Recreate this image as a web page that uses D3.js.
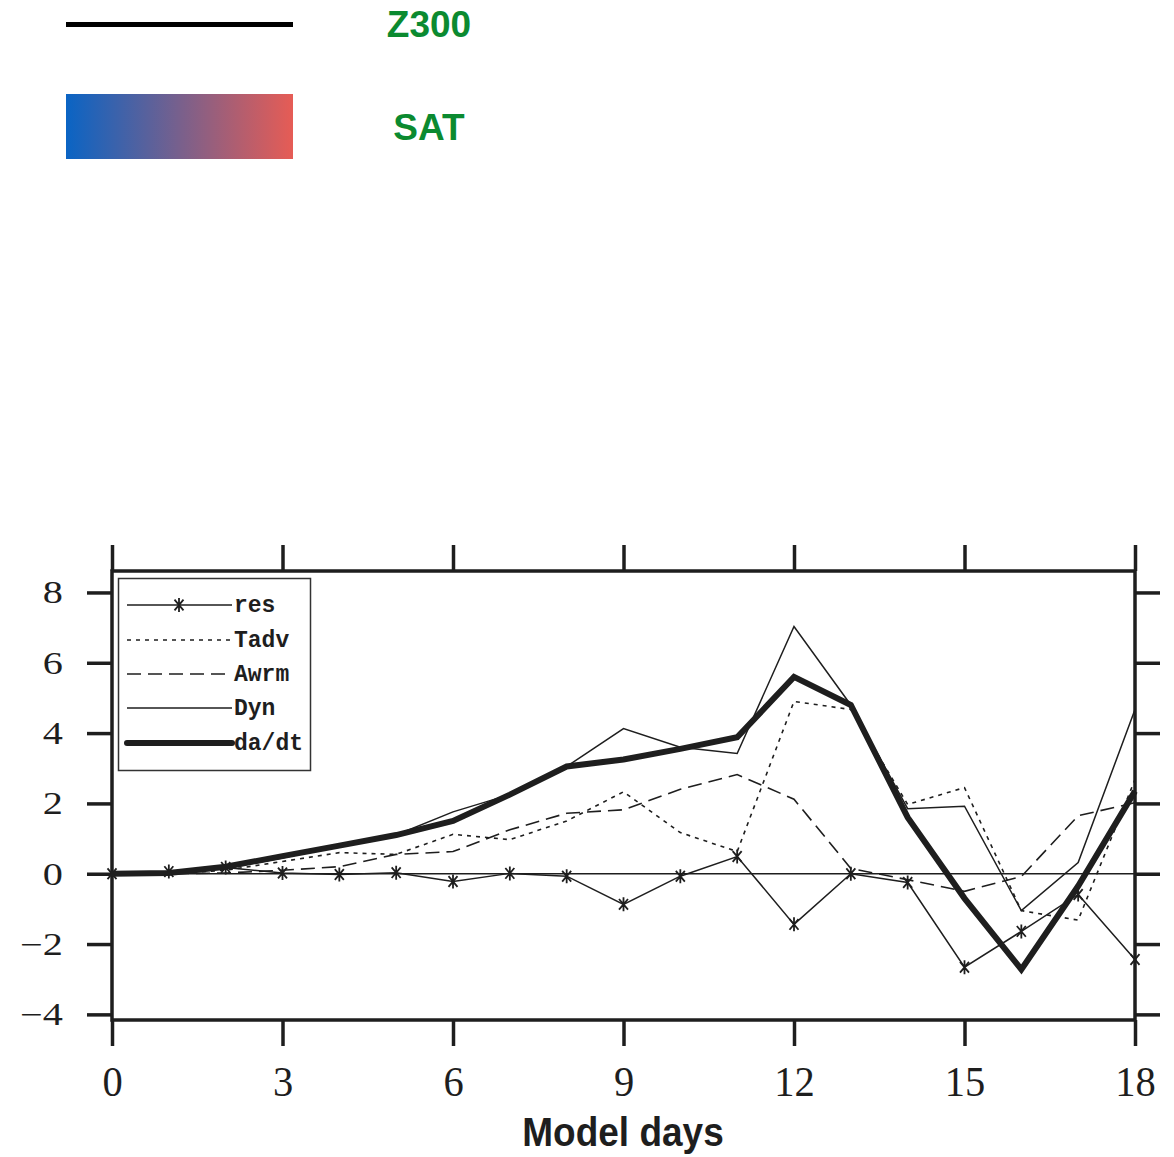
<!DOCTYPE html>
<html>
<head>
<meta charset="utf-8">
<script src="https://cdn.jsdelivr.net/npm/d3@7"></script>
<style>
  body { margin: 0; background: #fff; }
</style>
</head>
<body>
<div id="chart-area"></div>
<script>
// data
var days = d3.range(0, 19)
var res  = [0, 0.06, 0.18, 0.02, -0.02, 0.03, -0.22, 0.01, -0.07, -0.87, -0.07, 0.49, -1.44, 0.0, -0.25, -2.66, -1.64, -0.59, -2.44]
var tadv = [0, 0.0, 0.1, 0.35, 0.6, 0.55, 1.12, 0.97, 1.5, 2.33, 1.17, 0.63, 4.9, 4.67, 1.97, 2.45, -1.05, -1.32, 2.68]
var awrm = [0, 0.0, 0.02, 0.1, 0.2, 0.55, 0.63, 1.25, 1.72, 1.82, 2.4, 2.82, 2.12, 0.15, -0.17, -0.5, -0.08, 1.65, 2.02]
var dyn  = [0, 0.05, 0.15, 0.45, 0.8, 1.1, 1.76, 2.25, 3.05, 4.13, 3.6, 3.42, 7.03, 4.8, 1.85, 1.92, -1.05, 0.32, 4.67]
var dadt = [0, 0.02, 0.2, 0.5, 0.8, 1.1, 1.5, 2.25, 3.05, 3.25, 3.55, 3.88, 5.6, 4.8, 1.6, -0.7, -2.72, -0.35, 2.35]

var xTicks = [0, 3, 6, 9, 12, 15, 18]
var yTicks = [-4, -2, 0, 2, 4, 6, 8]
var legendNames = ["res", "Tadv", "Awrm", "Dyn", "da/dt"]
var topLegend = ["Z300", "SAT"]

var ink = "#1e1e1e"
var green = "#0b8a30"

var svg = d3.select("#chart-area")
	.append("svg")
		.attr("width", 1174)
		.attr("height", 1157)

// scales
var x = d3.scaleLinear().domain([0, 18]).range([112, 1135])
var y = d3.scaleLinear().domain([-4.16, 8.61]).range([1020, 571])

// top legend (line + gradient box)
var grad = svg.append("defs").append("linearGradient")
	.attr("id", "satGrad")
grad.append("stop").attr("offset", "0%").attr("stop-color", "#0a64c4")
grad.append("stop").attr("offset", "100%").attr("stop-color", "#e65c55")

svg.append("line")
	.attr("x1", 66).attr("x2", 293)
	.attr("y1", 24.5).attr("y2", 24.5)
	.attr("stroke", "#000")
	.attr("stroke-width", 5)
svg.append("rect")
	.attr("x", 66).attr("y", 94)
	.attr("width", 227).attr("height", 65)
	.attr("fill", "url(#satGrad)")

topLegend.forEach((name, i) => {
	svg.append("text")
		.attr("x", 429)
		.attr("y", i == 0 ? 37 : 140)
		.attr("text-anchor", "middle")
		.attr("font-family", "Liberation Sans, Arial, sans-serif")
		.attr("font-weight", "bold")
		.attr("font-size", "37px")
		.attr("fill", green)
		.text(name)
})

// axes - ticks point outward on all four sides
var axisFont = "Liberation Serif"

var leftAxis = svg.append("g")
	.attr("transform", "translate(" + x(0) + ",0)")
	.call(d3.axisLeft(y).tickValues(yTicks).tickSizeInner(25).tickSizeOuter(0).tickPadding(23)
		.tickFormat(d => d < 0 ? "\u2212" + Math.abs(d) : d))
svg.append("g")
	.attr("transform", "translate(" + x(18) + ",0)")
	.call(d3.axisRight(y).tickValues(yTicks).tickSizeInner(25).tickSizeOuter(0).tickFormat(""))
var bottomAxis = svg.append("g")
	.attr("transform", "translate(0," + y.range()[0] + ")")
	.call(d3.axisBottom(x).tickValues(xTicks).tickSizeInner(26).tickSizeOuter(0))
svg.append("g")
	.attr("transform", "translate(0," + y.range()[1] + ")")
	.call(d3.axisTop(x).tickValues(xTicks).tickSizeInner(26).tickSizeOuter(0).tickFormat(""))

svg.selectAll(".domain").remove()
svg.selectAll(".tick line")
	.attr("stroke", ink)
	.attr("stroke-width", 3.5)

// the original digits are wider than Times, so stretch them a bit
leftAxis.selectAll("text")
	.attr("font-family", axisFont)
	.attr("font-size", "31px")
	.attr("fill", ink)
	.attr("x", 0)
	.attr("dy", "0.34em")
	.attr("transform", "translate(-49,0) scale(1.3,1)")

// bottom labels are drawn taller than wide in the original
bottomAxis.selectAll("text")
	.attr("font-family", axisFont)
	.attr("font-size", "30px")
	.attr("fill", ink)
	.attr("y", 0)
	.attr("dy", null)
	.attr("transform", "translate(0,76) scale(1.35,1.42)")

// frame
svg.append("rect")
	.attr("x", x(0)).attr("y", y.range()[1])
	.attr("width", x(18) - x(0))
	.attr("height", y.range()[0] - y.range()[1])
	.attr("fill", "none")
	.attr("stroke", ink)
	.attr("stroke-width", 3.5)

// axis title
svg.append("text")
	.attr("transform", "translate(623,1146) scale(1,1.12)")
	.attr("text-anchor", "middle")
	.attr("font-family", "Liberation Sans, Arial, sans-serif")
	.attr("font-weight", "bold")
	.attr("font-size", "37px")
	.attr("fill", ink)
	.text("Model days")

// zero reference line
svg.append("line")
	.attr("x1", x(0)).attr("x2", x(18))
	.attr("y1", y(0)).attr("y2", y(0))
	.attr("stroke", ink)
	.attr("stroke-width", 1.5)

// series
var series = [
	{ name: "res",   values: res,  width: 1.5, dash: null },
	{ name: "Tadv",  values: tadv, width: 1.6, dash: "4,5" },
	{ name: "Awrm",  values: awrm, width: 1.6, dash: "14,7" },
	{ name: "Dyn",   values: dyn,  width: 1.5, dash: null },
	{ name: "da/dt", values: dadt, width: 6,   dash: null }
]

var line = d3.line()
	.x((d, i) => x(days[i]))
	.y(d => y(d))

var plot = svg.append("g")
series.forEach(s => {
	plot.append("path")
		.datum(s.values)
		.attr("fill", "none")
		.attr("stroke", ink)
		.attr("stroke-width", s.width)
		.attr("stroke-dasharray", s.dash)
		.attr("stroke-linejoin", "miter")
		.attr("d", line)
})

// asterisk marker: vertical bar plus two slanted bars
function asterisk(r) {
	var a = Math.PI / 4.5
	var dx = r * Math.sin(a), dy = r * Math.cos(a)
	return "M0," + (-r) + "L0," + r +
		"M" + (-dx) + "," + (-dy) + "L" + dx + "," + dy +
		"M" + dx + "," + (-dy) + "L" + (-dx) + "," + dy
}

plot.selectAll(".mark")
	.data(res)
	.enter().append("path")
		.attr("class", "mark")
		.attr("transform", (d, i) => "translate(" + x(days[i]) + "," + y(d) + ")")
		.attr("d", asterisk(7))
		.attr("stroke", ink)
		.attr("stroke-width", 1.8)
		.attr("fill", "none")

// inner legend
var legend = svg.append("g")
legend.append("rect")
	.attr("x", 118.5).attr("y", 578.5)
	.attr("width", 192).attr("height", 192)
	.attr("fill", "#fff")
	.attr("stroke", "#333")
	.attr("stroke-width", 1.5)

var rowY = [605, 640, 674, 708, 743]
series.forEach((s, i) => {
	var row = legend.append("g")
		.attr("transform", "translate(0," + rowY[i] + ")")
	row.append("line")
		.attr("x1", 127).attr("x2", 232)
		.attr("stroke", ink)
		.attr("stroke-width", s.width)
		.attr("stroke-dasharray", s.dash)
		.attr("stroke-linecap", s.width > 2 ? "round" : "butt")
	if (s.name == "res") {
		row.append("path")
			.attr("transform", "translate(179,0)")
			.attr("d", asterisk(7))
			.attr("stroke", ink)
			.attr("stroke-width", 1.8)
	}
	row.append("text")
		.attr("x", 234)
		.attr("y", 7)
		.attr("font-family", "Liberation Mono, Courier New, monospace")
		.attr("font-weight", "bold")
		.attr("font-size", "23px")
		.attr("fill", ink)
		.text(legendNames[i])
})
</script>
</body>
</html>
